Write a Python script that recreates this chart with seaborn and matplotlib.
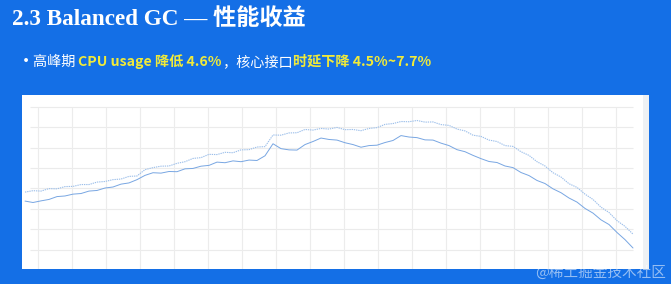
import numpy as np
import pandas as pd
import matplotlib
matplotlib.use("Agg")
import matplotlib.pyplot as plt
import seaborn as sns

# ---- data ----
title_latin = "2.3 Balanced GC — "
title_cjk = "性能收益"
bullet_parts = ["高峰期 ", "CPU usage 降低 4.6%", "，核心接口", "时延下降 4.5%~7.7%"]
bullet_highlight = [False, True, False, True]
watermark = "@稀土掘金技术社区"

series_top = [38.2, 38.9, 38.7, 39.9, 39.8, 40.9, 41.0, 41.9, 41.9, 43.1, 43.4, 44.3, 44.6,
              45.9, 46.1, 49.2, 50.2, 50.9, 51.0, 52.3, 53.1, 54.7, 55.1, 56.7, 56.6, 57.7,
              57.5, 58.9, 59.0, 60.3, 60.5, 66.2, 66.1, 67.2, 67.3, 68.9, 68.6, 69.4, 69.1,
              69.9, 68.8, 68.9, 68.3, 69.4, 69.8, 71.4, 71.8, 72.8, 72.7, 73.3, 72.5, 72.6,
              71.3, 70.9, 69.1, 68.2, 66.1, 65.5, 63.7, 63.0, 61.0, 60.6, 58.0, 56.2, 53.1,
              51.0, 47.7, 45.6, 42.3, 40.5, 37.2, 34.6, 30.8, 28.2, 24.2, 21.4, 17.6]
series_bottom = [33.8, 33.1, 33.9, 34.6, 36.0, 36.3, 37.2, 37.5, 38.7, 39.0, 40.2, 40.7, 42.1,
                 42.7, 44.3, 46.4, 47.7, 47.5, 48.3, 48.2, 49.6, 49.8, 50.9, 51.3, 52.9, 52.6,
                 53.5, 53.1, 53.9, 53.7, 56.0, 61.9, 59.5, 58.9, 58.8, 61.5, 63.0, 64.7, 64.0,
                 63.7, 62.4, 61.5, 60.2, 61.0, 61.2, 62.5, 63.5, 65.9, 65.2, 64.9, 63.8, 63.7,
                 62.2, 61.0, 59.0, 58.0, 56.2, 54.6, 53.2, 52.7, 51.0, 50.2, 47.8, 46.3, 43.9,
                 42.4, 39.8, 37.9, 35.3, 33.3, 30.2, 27.9, 24.6, 22.3, 18.4, 14.9, 10.8]
sample_step = 8
y_grid = [10, 20, 30, 40, 50, 60, 70, 80]
x_grid = [13 + 34 * k for k in range(18)]

# ---- styling ----
BG = "#146fe6"
YELLOW = "#f0ea3a"
sns.set_theme(style="white")
plt.rcParams["font.family"] = ["Noto Sans CJK SC", "DejaVu Sans"]

n = len(series_top)
x = np.arange(n) * sample_step
df = pd.DataFrame({
    "t": np.concatenate([x, x]),
    "v": np.concatenate([series_top, series_bottom]),
    "s": ["top"] * n + ["bottom"] * n,
})

W, H = 671, 284
fig = plt.figure(figsize=(W / 100, H / 100), dpi=100, facecolor=BG)
ax = fig.add_axes([22 / W, (H - 269) / H, 627 / W, 174 / H])
ax.set_facecolor("white")

# grid
ax.hlines(y_grid, 5, 608, color="#ebebeb", lw=0.8, zorder=0)
ax.vlines(x_grid, 0, 80, color="#ececec", lw=0.8, zorder=0)
ax.axvspan(618, 625, color="#eef1f4", lw=0, zorder=0)

sns.lineplot(data=df[df.s == "top"], x="t", y="v", ax=ax, color="#9cbfea",
             lw=0.8, linestyle=(0, (1.2, 0.8)), legend=False)
sns.lineplot(data=df[df.s == "bottom"], x="t", y="v", ax=ax, color="#78a6e2",
             lw=0.7, legend=False)

ax.set_xlim(-3, 624)
ax.set_ylim(0.5, 85.8)
ax.set_xlabel("")
ax.set_ylabel("")
ax.set_xticks([])
ax.set_yticks([])
for sp in ax.spines.values():
    sp.set_visible(False)

# title
fig.text(12 / W, 1 - 19 / H, title_latin + title_cjk, color="white", fontsize=16.7,
         fontweight="bold", va="center", ha="left",
         family=["Liberation Serif", "Noto Sans CJK SC"])

# bullet line
fig.text(17 / W, 1 - 62 / H, "•", color="white", fontsize=13, va="center", ha="left")
renderer = fig.canvas.get_renderer()
xpos = 33 / W
for part, hl in zip(bullet_parts, bullet_highlight):
    t = fig.text(xpos, 1 - 62 / H, part, color=YELLOW if hl else "white",
                 fontsize=10.2, fontweight="bold" if hl else "normal",
                 va="center", ha="left")
    bb = t.get_window_extent(renderer=renderer)
    xpos = bb.x1 / W

# watermark
fig.text(666 / W, 1 - 272 / H, watermark, color="white", alpha=0.55, fontsize=10.5,
         va="center", ha="right")

fig.savefig("out.png", dpi=100, facecolor=BG)
